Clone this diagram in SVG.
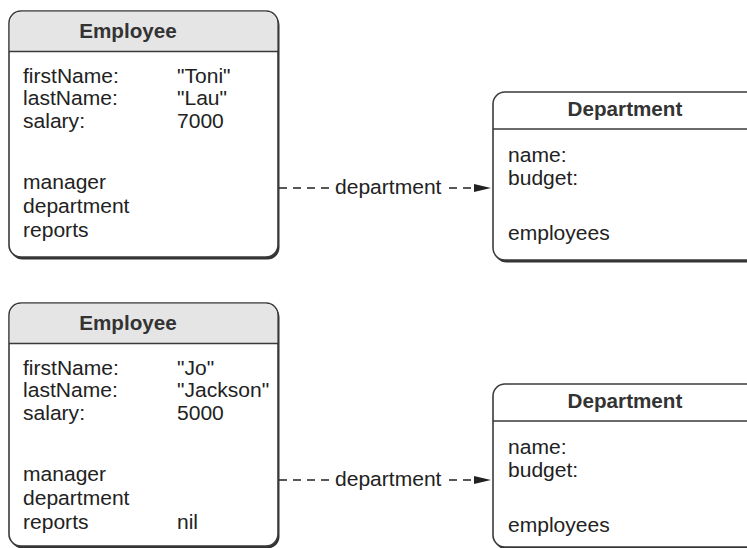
<svg xmlns="http://www.w3.org/2000/svg" width="747" height="548" viewBox="0 0 747 548">
<style>
  text { font-family: "Liberation Sans", Arial, Helvetica, sans-serif; font-size: 19.5px; fill: #222;
         transform-box: fill-box; transform-origin: 0 50%; transform: scaleX(1.08); }
  .title { font-weight: bold; fill: #333; text-anchor: middle; transform-origin: 50% 50%; transform: scaleX(1.06); }
  .shadow { fill: #333; }
  .box { fill: #fff; stroke: #3a3a3a; stroke-width: 1.6; }
  .head { fill: #e5e5e5; }
  .div { stroke: #3a3a3a; stroke-width: 1.4; }
  .conn { stroke: #222; stroke-width: 1.5; fill: none; stroke-dasharray: 8 6; }
</style>
<defs>
  <marker id="arrow" markerUnits="userSpaceOnUse" markerWidth="17" markerHeight="10" viewBox="0 0 17 10" refX="17" refY="5" orient="auto">
    <path d="M0,1 L17,5 L0,9 Z" fill="#222"/>
  </marker>
</defs>

<g id="employee1">
  <rect class="shadow" x="10.5" y="13.5" width="269" height="246" rx="12"/>
  <rect class="box" x="9" y="11" width="269" height="246" rx="12"/>
  <path class="head" d="M9.8,51.5 V23 A12,12 0 0 1 21,11.8 H266 A12,12 0 0 1 277.2,23 V51.5 Z"/>
  <line class="div" x1="9" y1="51.5" x2="278" y2="51.5"/>
  <text class="title" x="128" y="38.5">Employee</text>
  <text x="23" y="83">firstName:</text><text x="177" y="83">"Toni"</text>
  <text x="23" y="105.5">lastName:</text><text x="177" y="105.5">"Lau"</text>
  <text x="23" y="128">salary:</text><text x="177" y="128">7000</text>
  <text x="23" y="189">manager</text>
  <text x="23" y="213">department</text>
  <text x="23" y="237">reports</text>
</g>

<g id="department1">
  <rect class="shadow" x="494.5" y="94.5" width="300" height="168" rx="12"/>
  <rect class="box" x="493" y="92" width="300" height="168" rx="12"/>
  <line class="div" x1="493" y1="129" x2="793" y2="129"/>
  <text class="title" x="625" y="116.5">Department</text>
  <text x="508" y="162">name:</text>
  <text x="508" y="185.5">budget:</text>
  <text x="508" y="240">employees</text>
</g>

<g id="employee2">
  <rect class="shadow" x="10.5" y="305.5" width="269" height="243" rx="12"/>
  <rect class="box" x="9" y="303" width="269" height="243" rx="12"/>
  <path class="head" d="M9.8,343.5 V315 A12,12 0 0 1 21,303.8 H266 A12,12 0 0 1 277.2,315 V343.5 Z"/>
  <line class="div" x1="9" y1="343.5" x2="278" y2="343.5"/>
  <text class="title" x="128" y="330.5">Employee</text>
  <text x="23" y="375">firstName:</text><text x="177" y="375">"Jo"</text>
  <text x="23" y="397.5">lastName:</text><text x="177" y="397.5">"Jackson"</text>
  <text x="23" y="420">salary:</text><text x="177" y="420">5000</text>
  <text x="23" y="481">manager</text>
  <text x="23" y="505">department</text>
  <text x="23" y="529">reports</text><text x="177" y="529">nil</text>
</g>

<g id="department2">
  <rect class="shadow" x="494.5" y="386.5" width="300" height="163" rx="12"/>
  <rect class="box" x="493" y="384" width="300" height="163" rx="12"/>
  <line class="div" x1="493" y1="421" x2="793" y2="421"/>
  <text class="title" x="625" y="408.5">Department</text>
  <text x="508" y="454">name:</text>
  <text x="508" y="477.5">budget:</text>
  <text x="508" y="532">employees</text>
</g>

<g id="connectors">
  <line class="conn" x1="279" y1="188" x2="329" y2="188"/>
  <text x="335" y="194">department</text>
  <line class="conn" x1="449" y1="188" x2="491" y2="188" marker-end="url(#arrow)"/>
  <line class="conn" x1="279" y1="480" x2="329" y2="480"/>
  <text x="335" y="486">department</text>
  <line class="conn" x1="449" y1="480" x2="491" y2="480" marker-end="url(#arrow)"/>
</g>
</svg>
